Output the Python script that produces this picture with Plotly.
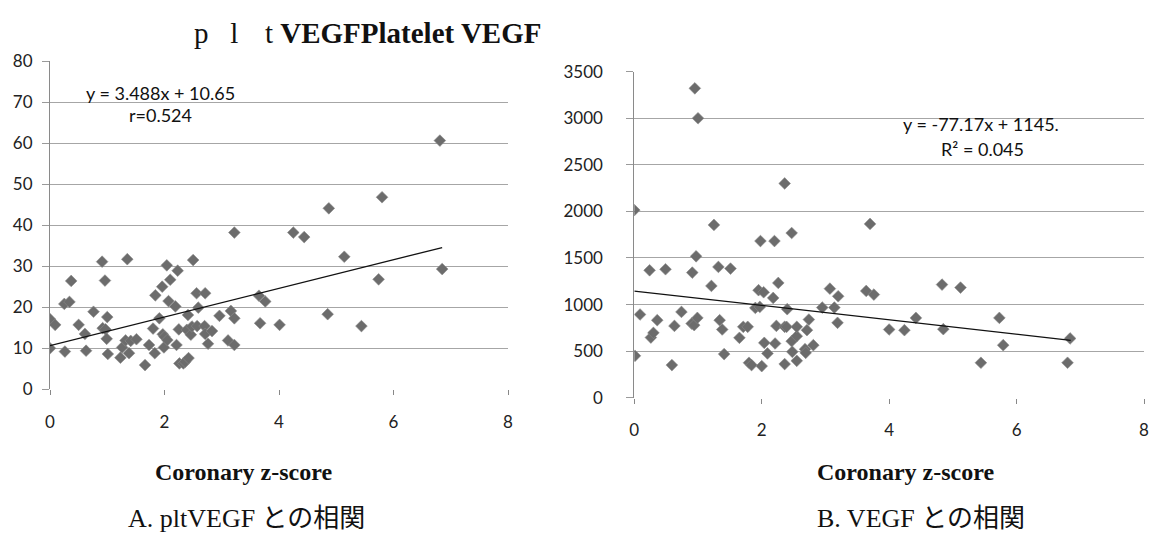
import plotly.graph_objects as go

# ---- Panel A: platelet VEGF vs coronary z-score ----
a_x = [0, 0.09, 0, 0.26, 0.25, 0.34, 0.37, 0.5, 0.61, 0.63, 0.76, 0.91, 0.92, 0.97, 0.96, 1.0,
       0.99, 1.01, 1.23, 1.26, 1.32, 1.35, 1.38, 1.41, 1.51, 1.66, 1.73, 1.80, 1.83, 1.84, 1.91,
       1.96, 1.97, 1.99, 2.0, 2.04, 2.05, 2.07, 2.10, 2.19, 2.21, 2.23, 2.25, 2.26, 2.33, 2.36,
       2.39, 2.41, 2.42, 2.46, 2.48, 2.50, 2.56, 2.57, 2.59, 2.70, 2.71, 2.71, 2.76, 2.83, 2.96,
       3.11, 3.16, 3.22, 3.22, 3.22, 3.65, 3.67, 3.76, 4.01, 6.81, 5.80, 4.87, 4.25, 4.44, 5.14,
       5.74, 6.85, 4.85, 5.44]
a_y = [17.1, 15.7, 10.0, 9.2, 20.8, 21.3, 26.4, 15.7, 13.5, 9.4, 18.9, 31.1, 14.9, 14.6, 26.5, 17.6,
       12.3, 8.6, 7.7, 10.2, 11.9, 31.7, 8.8, 11.8, 12.2, 5.9, 10.8, 14.8, 8.8, 22.9, 17.3,
       25.0, 13.4, 10.2, 12.8, 30.2, 12.0, 21.5, 26.7, 20.2, 10.8, 28.9, 14.6, 6.3, 6.3, 6.7,
       14.5, 18.1, 7.6, 13.3, 15.3, 31.5, 23.4, 15.4, 19.9, 15.4, 23.4, 13.5, 11.1, 14.2, 17.9,
       11.9, 19.1, 17.3, 10.8, 38.2, 22.8, 16.1, 21.4, 15.7, 60.6, 46.8, 44.1, 38.2, 37.1, 32.3,
       26.8, 29.3, 18.3, 15.4]
a_slope, a_intercept = 3.488, 10.65
a_fit_x = [0, 6.85]
a_eq = ["y = 3.488x + 10.65", "r=0.524"]

# ---- Panel B: serum VEGF vs coronary z-score ----
b_x = [0.01, 0.09, 0.24, 0.26, 0.30, 0.36, 0.49, 0.59, 0.63, 0.74, 0.90, 0.91, 0.94, 0.97, 0.99,
       1.21, 1.32, 1.34, 1.38, 1.41, 1.51, 1.65, 1.71, 1.78, 1.80, 1.84, 1.90, 1.95, 1.97, 1.98,
       2.0, 2.03, 2.04, 2.09, 2.18, 2.20, 2.21, 2.23, 2.26, 2.36, 2.36, 2.39, 2.40, 2.47, 2.47,
       2.48, 2.55, 2.55, 2.55, 2.68, 2.69, 2.71, 2.74, 2.81, 2.95, 3.07, 3.14, 3.19, 3.20, 3.64,
       3.76, 4.0, 4.24, 4.42, 4.83, 4.85, 5.12, 5.44, 5.73, 5.79, 6.80, 6.84, 0.95, 1.0, 0.0,
       2.36, 1.25, 3.70]
b_y = [450, 893, 1368, 646, 696, 832, 1379, 350, 771, 921, 796, 1343, 779, 1518, 857,
       1200, 1404, 832, 732, 468, 1386, 643, 761, 761, 375, 350, 964, 1154, 975, 1682,
       339, 1132, 589, 475, 1071, 1682, 582, 771, 1232, 761, 361, 761, 950, 1768, 607,
       493, 661, 761, 396, 521, 482, 725, 839, 564, 968, 1171, 968, 804, 1089, 1146,
       1107, 732, 725, 857, 1214, 736, 1182, 375, 857, 564, 375, 636, 3321, 3000, 2014,
       2300, 1855, 1866]
b_slope, b_intercept = -77.17, 1145
b_fit_x = [0, 6.85]
b_eq = ["y = -77.17x + 1145.", "R² = 0.045"]

# ---- text ----
main_title = ("p&nbsp;&nbsp;&nbsp;l&nbsp;&nbsp;&nbsp;&#8202;&#8202;t&nbsp;"
              "<b>VEGFPlatelet VEGF</b>")
x_title = "Coronary z-score"
caption_a = "A. pltVEGF との相関"
caption_b = "B. VEGF との相関"
a_yticks = [0, 10, 20, 30, 40, 50, 60, 70, 80]
b_yticks = [0, 500, 1000, 1500, 2000, 2500, 3000, 3500]
xticks = [0, 2, 4, 6, 8]

W, H = 1159, 542
OFF = 8  # page body margin offsets the figure by 8px


def px(x):
    return (x - OFF) / W


def py(y):
    return 1 - (y - OFF) / H


MARK = dict(symbol="diamond", size=9, color="#6c6c6c", line=dict(width=0.6, color="#8a8a8a"))
LINE = dict(color="#111111", width=1.3)

fig = go.Figure()
fig.add_trace(go.Scatter(x=a_x, y=a_y, mode="markers", marker=MARK, xaxis="x", yaxis="y"))
fig.add_trace(go.Scatter(x=a_fit_x, y=[a_slope * v + a_intercept for v in a_fit_x],
                         mode="lines", line=LINE, xaxis="x", yaxis="y"))
fig.add_trace(go.Scatter(x=b_x, y=b_y, mode="markers", marker=MARK, xaxis="x2", yaxis="y2"))
fig.add_trace(go.Scatter(x=b_fit_x, y=[b_slope * v + b_intercept for v in b_fit_x],
                         mode="lines", line=LINE, xaxis="x2", yaxis="y2"))

tickfont = dict(family="Lato, Open Sans, sans-serif", size=17, color="#222222")


def xaxis(domain, anchor):
    return dict(domain=domain, anchor=anchor, range=[0, 8], tickvals=xticks,
                showgrid=False, zeroline=False, showline=False, automargin=False,
                ticks="outside", ticklen=5, tickcolor="#888888",
                ticklabelstandoff=12, tickfont=tickfont, fixedrange=True)


def yaxis(domain, anchor, rng, vals, standoff):
    return dict(domain=domain, anchor=anchor, range=rng, tickvals=vals, zeroline=False,
                showline=True, linecolor="#8a8a8a", linewidth=1, automargin=False,
                ticks="outside", ticklen=7, tickcolor="#9a9a9a",
                ticklabelstandoff=standoff, tickfont=tickfont,
                showgrid=True, gridcolor="#a6a6a6", gridwidth=1)


fig.update_layout(
    width=W, height=H, autosize=False,
    margin=dict(l=0, r=0, t=0, b=0, pad=0, autoexpand=False),
    paper_bgcolor="white", plot_bgcolor="white", showlegend=False,
    xaxis=xaxis([px(50), px(508)], "y"),
    yaxis=yaxis([py(389.3), py(61)], "x", [0, 80], a_yticks, 6),
    xaxis2=xaxis([px(634.3), px(1144)], "y2"),
    yaxis2=yaxis([py(397.7), py(71.7)], "x2", [0, 3500], b_yticks, 20),
)

serif = "Liberation Serif, Times New Roman, Noto Sans CJK JP, serif"
eqfont = dict(family="Lato, Open Sans, sans-serif", size=18, color="#111111")
ann = [
    dict(text=main_title, x=px(192), y=py(33), xanchor="left",
         font=dict(family=serif, size=29, color="#111")),
    dict(text="<b>" + x_title + "</b>", x=px(243), y=py(472),
         font=dict(family=serif, size=24, color="#111")),
    dict(text="<b>" + x_title + "</b>", x=px(905), y=py(472),
         font=dict(family=serif, size=24, color="#111")),
    dict(text=caption_a, x=px(246), y=py(518), font=dict(family=serif, size=26, color="#111")),
    dict(text=caption_b, x=px(921), y=py(518), font=dict(family=serif, size=26, color="#111")),
    dict(text=a_eq[0], x=px(160), y=py(93), font=eqfont),
    dict(text=a_eq[1], x=px(160), y=py(115), font=eqfont),
    dict(text=b_eq[0], x=px(981), y=py(124), font=eqfont),
    dict(text=b_eq[1], x=px(982), y=py(149), font=eqfont),
]
for a in ann:
    a.setdefault("xanchor", "center")
    a.update(xref="paper", yref="paper", showarrow=False, yanchor="middle")
fig.update_layout(annotations=ann)

fig.write_html("out.html")
